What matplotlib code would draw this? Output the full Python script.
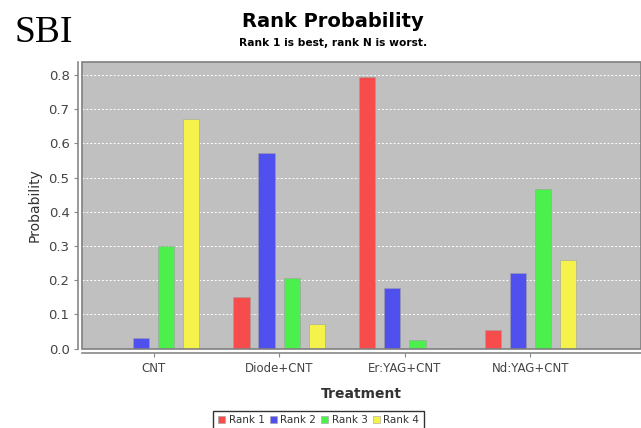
import matplotlib
matplotlib.use('Agg')
import matplotlib.pyplot as plt
import numpy as np
from matplotlib.patches import Rectangle

treatments = ['CNT', 'Diode+CNT', 'Er:YAG+CNT', 'Nd:YAG+CNT']
ranks = ['Rank 1', 'Rank 2', 'Rank 3', 'Rank 4']
rank1 = [0.0, 0.152, 0.795, 0.053]
rank2 = [0.030, 0.573, 0.178, 0.220]
rank3 = [0.300, 0.207, 0.026, 0.467]
rank4 = [0.670, 0.073, 0.001, 0.260]
yticks = [0.0, 0.1, 0.2, 0.3, 0.4, 0.5, 0.6, 0.7, 0.8]

colors = ['#f64c4c', '#5050ee', '#4cf04c', '#f5f24c']

fig = plt.figure(figsize=[6.41, 4.28], dpi=100)
ax = fig.add_axes([82/641., 1-348.5/428., 1-82/641., (348.5-62)/428.])

x = np.arange(len(treatments))
w = 0.13
for i, vals in enumerate([rank1, rank2, rank3, rank4]):
    ax.bar(x + (i-1.5)*0.2, vals, width=w, color=colors[i], label=ranks[i],
           edgecolor='#a0a0a0', linewidth=0.4, zorder=3)

ax.set_facecolor('#c0c0c0')
ax.set_xlim(-0.57, 3.88)
ax.set_ylim(0, 0.838)
ax.set_yticks(yticks)
ax.set_yticklabels(['%.1f' % t for t in yticks])
ax.set_xticks(x)
ax.set_xticklabels(treatments)
ax.yaxis.grid(True, color='white', linestyle=(0, (2, 2)), linewidth=0.7, zorder=1)
ax.set_axisbelow(True)

for s in ['top', 'right']:
    ax.spines[s].set_visible(False)
for s in ['left', 'bottom']:
    ax.spines[s].set_position(('outward', 3))
    ax.spines[s].set_color('#888888')
    ax.spines[s].set_linewidth(1.2)
ax.tick_params(axis='both', length=3, width=0.8, color='#888888', pad=3, labelcolor='#444444')
ax.tick_params(axis='y', labelsize=9.5)
ax.tick_params(axis='x', labelsize=8.5, pad=4)

ax.add_patch(Rectangle((0, 0), 1, 1, transform=ax.transAxes, fill=False,
                       edgecolor='#808080', linewidth=1.2, clip_on=False, zorder=5))

ax.set_ylabel('Probability', fontsize=10, color='#333333', labelpad=5)
ax.set_xlabel('Treatment', fontsize=10, fontweight='bold', color='#333333', labelpad=8)

fig.text(0.022, 0.903, 'SBI', family='Liberation Serif', fontsize=27, color='black')
fig.text(0.519, 0.937, 'Rank Probability', ha='center', fontsize=14, fontweight='bold')
fig.text(0.519, 0.893, 'Rank 1 is best, rank N is worst.', ha='center', fontsize=7.7, fontweight='bold')

leg = fig.legend(loc='lower center', bbox_to_anchor=(0.497, -0.005), ncol=4, fontsize=7.5,
                 frameon=True, fancybox=False, handlelength=0.7, handleheight=0.7,
                 handletextpad=0.3, columnspacing=0.5, borderpad=0.45, borderaxespad=0)
leg.get_frame().set_edgecolor('black')
leg.get_frame().set_linewidth(1.0)
for t in leg.get_texts():
    t.set_color('#333333')

fig.savefig('out.png', dpi=100)
